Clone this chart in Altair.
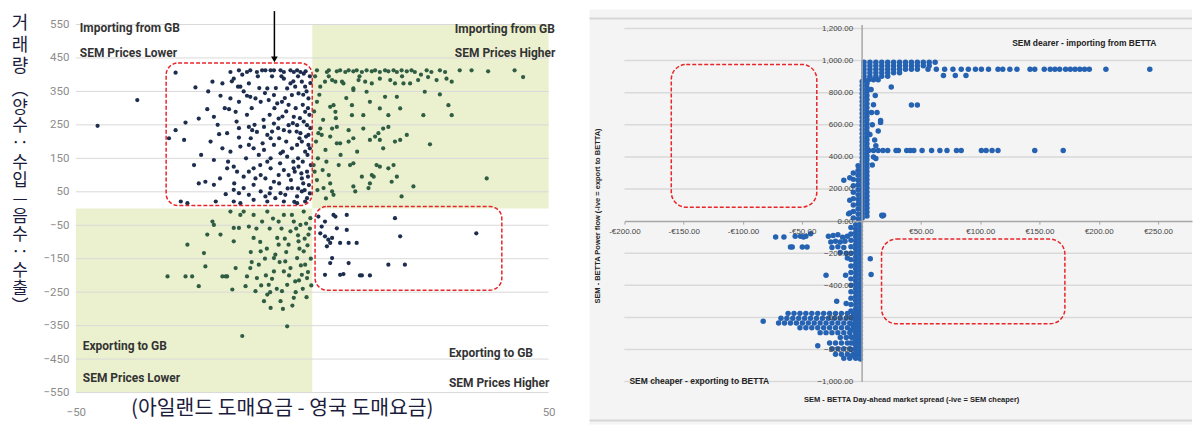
import altair as alt
import pandas as pd

NARROW = "Roboto, Liberation Sans, sans-serif"
KFONT = "Noto Sans CJK KR"
SANS = "Liberation Sans, Arial, sans-serif"

# ---------------- left panel values (price spread vs. flow) ----------------
NAVY_BOX1 = [
    (-28.9, 406), (-24.7, 362), (-21.1, 379), (-19.0, 374), (-17.3, 408), (-16.6, 388), (-15.5, 413),
    (-15.2, 364), (-13.8, 408), (-13.4, 374), (-13.1, 413), (-11.7, 408), (-10.6, 413), (-9.9, 413),
    (-8.8, 413), (-8.1, 413), (-6.7, 413), (-6.0, 408), (-4.6, 413), (-3.9, 408), (-3.2, 413),
    (-2.5, 408), (-1.8, 403),
    (-26.8, 257), (-28.9, 234), (-30.3, 210), (-27.1, 205), (-24.0, 269), (-22.2, 297), (-20.8, 274),
    (-19.4, 337), (-17.6, 297), (-17.3, 329), (-16.2, 289), (-15.5, 319), (-15.7, 364), (-13.8, 337),
    (-13.1, 334), (-12.0, 329), (-10.9, 319), (-9.5, 359), (-9.2, 324), (-8.1, 339), (-7.4, 314),
    (-6.4, 319), (-6.0, 388), (-5.3, 359), (-4.6, 374), (-4.3, 339), (-3.6, 364), (-2.9, 344),
    (-2.2, 379), (-1.5, 364), (-0.8, 329),
    (-19.7, 222), (-18.0, 225), (-15.5, 212), (-13.4, 244), (-12.7, 234), (-11.7, 229), (-10.2, 244),
    (-9.5, 220), (-8.8, 210), (-8.1, 254), (-7.1, 269), (-6.0, 234), (-5.0, 249), (-3.9, 274),
    (-3.2, 249), (-2.5, 225), (-1.5, 289), (-1.1, 249), (-0.8, 220),
    (-25.0, 130), (-20.8, 145), (-17.3, 170), (-15.2, 185), (-13.4, 190), (-12.4, 180), (-11.3, 160),
    (-10.2, 175), (-8.8, 150), (-8.1, 190), (-6.7, 165), (-5.3, 155), (-4.3, 180), (-3.2, 190),
    (-2.2, 200), (-1.5, 170), (-0.8, 190),
    (-24.0, 75), (-22.6, 80), (-20.8, 71), (-18.0, 120), (-16.6, 125), (-15.9, 110), (-14.5, 95),
    (-13.4, 110), (-12.4, 120), (-10.9, 100), (-9.9, 90), (-8.8, 120), (-8.1, 80), (-7.1, 100),
    (-6.0, 115), (-5.0, 100), (-3.9, 120), (-2.9, 125), (-2.2, 90), (-1.1, 110),
    (-18.3, 43), (-16.6, 56), (-15.5, 46), (-14.5, 61), (-13.4, 41), (-12.4, 71), (-10.9, 51),
    (-9.9, 36), (-8.8, 61), (-7.8, 31), (-6.7, 46), (-5.7, 41), (-4.3, 61), (-3.2, 36), (-2.2, 51),
    (-1.1, 31),
    (-27.8, 21), (-26.4, 16), (-20.4, 21), (-16.6, 21), (-15.2, 16), (-12.4, 26), (-9.5, 21),
    (-6.0, 21), (-3.2, 16), (-1.5, 21),
    (-0.5, 395), (-1.2, 350), (-2.0, 310), (-0.6, 280), (-3.5, 300), (-1.8, 260), (-0.4, 240),
    (-2.7, 210), (-4.8, 230), (-1.0, 160), (-3.0, 150), (-0.3, 130), (-2.3, 105), (-4.5, 85),
    (-0.7, 70), (-1.6, 55), (-3.8, 20), (-6.5, 395), (-5.5, 290), (-7.0, 210), (-9.0, 280),
    (-10.5, 195), (-11.0, 130), (-12.8, 300), (-14.0, 150), (-4.0, 140), (-6.8, 135), (-8.5, 395),
    (-11.5, 395), (-14.8, 400), (-7.7, 360), (-10.0, 345), (-5.8, 330), (-3.0, 395), (-1.4, 410),
    (-12.2, 250), (-16.0, 260), (-17.8, 140), (-19.5, 90), (-21.5, 200),
    (-0.4, 375), (-1.9, 340), (-0.9, 300), (-2.6, 270), (-3.3, 230), (-1.3, 215), (-0.5, 180),
    (-2.0, 140), (-3.7, 110), (-0.9, 95), (-1.9, 75), (-3.0, 60), (-0.5, 45), (-4.0, 380),
    (-5.0, 310), (-5.5, 200), (-6.2, 170), (-7.2, 240), (-8.0, 300), (-8.5, 230), (-9.5, 140),
    (-10.3, 265), (-11.2, 360), (-12.0, 90), (-13.0, 210), (-13.8, 280), (-14.5, 350), (-15.5, 240),
    (-16.5, 75), (-17.0, 380), (-18.5, 300), (-19.0, 180), (-20.0, 250), (-22.0, 350), (-23.5, 160),
    (-5.2, 60), (-7.0, 75), (-9.0, 45), (-6.3, 275), (-4.1, 255),
]
NAVY_BOX2 = [
    (1.3, -24), (2.7, -39), (4.5, -19), (4.9, -24), (7.3, -19), (7.3, -64), (1.7, -74), (2.7, -83),
    (3.4, -93), (3.8, -103), (4.2, -88), (3.1, -113), (5.9, -103), (7.7, -103), (9.4, -103),
    (4.2, -148), (3.8, -163), (7.7, -163), (2.7, -198), (5.9, -198), (6.6, -196), (10.1, -200),
    (10.5, -200), (12.2, -200), (16.1, -168), (19.6, -168), (17.5, -29), (18.6, -83), (34.7, -74),
    (2.0, -54), (5.2, -59),
]
NAVY_OUTLIERS = [(-45.4, 247), (-37.0, 324)]
GREEN_TOP_RIGHT = [
    (1.0, 413), (3.1, 408), (3.5, 413), (5.2, 410), (5.9, 413), (7.0, 408), (7.7, 413), (8.7, 410),
    (9.4, 413), (10.5, 408), (11.5, 413), (12.6, 410), (13.3, 413), (14.3, 408), (15.4, 413),
    (16.1, 410), (17.2, 413), (17.9, 408), (18.9, 413), (20.0, 410), (21.0, 413), (21.7, 408),
    (24.2, 413), (25.2, 408), (27.0, 413), (28.1, 408), (31.2, 413), (33.7, 413), (37.2, 410),
    (42.8, 413), (44.6, 393),
    (1.7, 364), (2.7, 379), (4.2, 384), (4.9, 379), (6.3, 379), (6.6, 374), (8.7, 359), (9.8, 384),
    (11.2, 379), (12.6, 374), (14.3, 388), (16.5, 384), (17.5, 374), (19.3, 374), (20.7, 374),
    (22.4, 384), (24.5, 393), (26.3, 384), (28.4, 388), (29.5, 379), (11.5, 349), (8.7, 354),
    (23.8, 349), (27.0, 341), (17.9, 334), (15.4, 334),
    (1.0, 319), (3.8, 304), (4.5, 309), (4.9, 289), (8.4, 309), (8.4, 279), (10.8, 279), (12.2, 319),
    (14.3, 299), (16.1, 279), (18.6, 299), (23.5, 279), (28.8, 309), (29.5, 279), (1.7, 239),
    (4.2, 239), (5.2, 244), (7.7, 234), (10.8, 239), (12.2, 205), (13.3, 215), (14.3, 205),
    (15.0, 239), (16.1, 244), (14.0, 225), (8.7, 210), (3.8, 215), (5.2, 195), (5.9, 195), (7.7, 200),
    (15.0, 180), (17.5, 200), (18.6, 205), (20.0, 220), (24.9, 192), (1.3, 225), (2.0, 220),
    (0.3, 130), (3.5, 100), (5.6, 130), (8.0, 130), (8.7, 135), (10.5, 95), (12.6, 100), (13.0, 95),
    (13.6, 130), (14.3, 125), (16.1, 120), (17.2, 130), (17.9, 95), (16.8, 80), (21.4, 66),
    (18.9, 36), (1.0, 85), (2.4, 61), (3.8, 75), (4.2, 51), (8.7, 66), (9.1, 51), (11.9, 61),
    (12.2, 75), (4.5, 41), (36.9, 90),
    (0.6, 395), (1.5, 340), (0.4, 290), (2.3, 265), (0.8, 200), (2.8, 175), (1.2, 150), (3.0, 140),
    (0.5, 110), (2.2, 115), (1.1, 55), (2.9, 30), (6.0, 160), (9.5, 170), (5.0, 270), (7.2, 330),
    (10.0, 395), (19.0, 395), (23.0, 400), (3.5, 395),
]
GREEN_BOTTOM_LEFT = [
    (-30.6, -203), (-26.8, -203), (-25.4, -203), (-24.0, -232), (-26.4, -108), (-22.9, -133),
    (-22.6, -173), (-22.2, -78), (-21.1, -39), (-19.4, -78), (-19.0, -203), (-18.3, -203),
    (-18.0, -203), (-16.9, -242), (-16.6, -98), (-16.2, -178), (-15.5, -58), (-15.2, -19),
    (-14.5, -9), (-14.1, -232), (-13.8, -203), (-13.1, -178), (-13.4, -54), (-12.4, -88),
    (-12.0, -247), (-11.7, -208), (-11.3, -168), (-10.9, -128), (-10.6, -39), (-10.2, -277),
    (-9.5, -257), (-9.2, -228), (-8.8, -297), (-8.1, -188), (-7.8, -138), (-7.4, -88), (-7.1, -39),
    (-6.7, -277), (-6.4, -247), (-6.0, -188), (-5.7, -158), (-5.3, -352), (-5.0, -108), (-4.6, -68),
    (-4.3, -19), (-3.9, -267), (-3.6, -218), (-3.2, -148), (-2.9, -98), (-2.5, -49), (-2.2, -198),
    (-1.8, -128), (-1.5, -168), (-1.1, -208), (-0.8, -78), (-0.4, -29), (-20.8, -49), (-16.6, -58),
    (-17.3, -9), (-12.4, -19), (-9.5, -9), (-6.0, -19), (-3.9, -39), (-1.8, -9), (-14.8, -381),
    (-8.1, -148), (-7.1, -108), (-5.3, -228), (-4.6, -178),
    (-0.5, -60), (-1.0, -110), (-0.3, -150), (-0.9, -190), (-0.2, -230), (-2.0, -240), (-1.3, -45),
    (-2.7, -120), (-9.0, -60), (-11.0, -100), (-8.5, -210), (-6.5, -60), (-13.0, -130),
    (-10.0, -150), (-5.5, -130), (-3.0, -80), (-7.5, -240), (-4.2, -290), (-2.4, -170), (-9.8, -200),
    (-1.6, -90), (-3.4, -60), (-5.8, -90), (-8.3, -30), (-11.8, -60), (-2.8, -215), (-4.9, -200),
    (-6.9, -160), (-8.9, -250), (-10.8, -230), (-3.5, -250), (-1.2, -265), (-6.2, -300),
    (-9.6, -120), (-12.8, -160),
]
L_Y_TICKS = [550, 450, 350, 250, 150, 50, -50, -150, -250, -350, -450, -550]
L_X_TICKS = [-50, 50]
L_X_DOMAIN = [-50, 50]
L_Y_DOMAIN = [-550, 550]
L_ZONES = {"x": [0, -50], "x2": [50, 0], "y": [0, -550], "y2": [550, 0]}
L_BOXES = {"x": [-30.9, 0.6], "x2": [0.0, 40.1], "y": [435, 6], "y2": [9, -244]}
ARROW = {"x": [-8.0], "y": [590], "y2": [452]}
ARROW_HEAD = {"x": [-8.0], "y": [446]}
L_TEXTS = {
    "tl": ["Importing from GB", "SEM Prices Lower"],
    "tr": ["Importing from GB", "SEM Prices Higher"],
    "bl": ["Exporting to GB", "SEM Prices Lower"],
    "br": ["Exporting to GB", "SEM Prices Higher"],
}
K_YTITLE_A = ["거", "래", "량"]
K_YTITLE_B = ["︵", "양", "수", "‥", "수", "입", "—", "음", "수", "‥", "수", "출", "︶"]
K_XTITLE = "(아일랜드 도매요금 - 영국 도매요금)"

# ---------------- right panel values (SEM - BETTA) ----------------
R_TOP_BLOCK = [
    (2, 990), (7, 990), (12, 990), (17, 990), (22, 990), (27, 990), (32, 990), (37, 990), (42, 990),
    (47, 990), (52, 990), (57, 990), (62, 990),
    (2, 968), (7, 968), (12, 968), (17, 968), (22, 968), (27, 968), (32, 968), (37, 968), (42, 968),
    (47, 968), (52, 968), (57, 968),
    (2, 946), (7, 946), (12, 946), (17, 946), (22, 946), (27, 946), (32, 946), (37, 946), (42, 946),
    (47, 946),
    (2, 924), (7, 924), (12, 924), (17, 924), (22, 924), (27, 924), (32, 924),
    (2, 902), (7, 902), (12, 902), (17, 902), (22, 902),
    (2, 880), (6, 880), (10, 880), (14, 880),
]
R_ROW_950 = [
    (56, 946), (63, 946), (70, 946), (77, 946), (84, 946), (90, 946), (96, 946), (101, 946),
    (107, 946), (115, 946), (119, 946), (125, 946), (131, 946), (142, 946), (146, 946), (154, 946),
    (159, 946), (163, 946), (167, 946), (172, 946), (176, 946), (180, 946), (184, 946), (188, 946),
    (192, 946), (206, 946), (243, 946), (69, 907), (79, 907), (88, 907),
]
R_ROW_440 = [
    (6, 440), (10, 440), (14, 440), (18, 440), (22, 440), (29, 440), (31, 440), (38, 440), (41, 440),
    (44, 440), (51, 440), (59, 440), (66, 440), (72, 440), (80, 440), (84, 440), (101, 440),
    (105, 440), (110, 440), (115, 440), (146, 440), (170, 440),
]
# dense vertical band above zero, read as columns of points
BAND_UP_COL_A = [870, 845, 820, 795, 770, 745, 720, 695, 670, 645, 620, 595, 570, 545, 520, 495,
                 470, 445, 420, 395, 370, 345, 320, 295, 270, 245, 220, 195, 170, 145, 120, 95, 70,
                 45, 20]
BAND_UP_COL_B = [857, 832, 807, 782, 757, 732, 707, 682, 657, 632, 607, 582, 557, 532, 507, 482,
                 457, 432, 407, 382, 357, 332, 307, 282, 257, 232, 207, 182, 157, 132, 107, 82, 57,
                 32]
BAND_UP_COL_C = [345, 315, 285, 255, 225, 195, 165, 135, 105, 75, 45, 15]
BAND_UP_COL_D = [300, 260, 220, 180, 140, 100, 60, 20]
BAND_UP_COL_E = [270, 130, 50]
BAND_UP_X = {"a": 0.5, "b": 4.5, "c": -3, "d": -7, "e": -10}
R_SCATTER_UP = [
    (11.5, 783), (13, 677), (16, 615), (14, 562), (11, 505), (8.4, 677), (10, 725), (9, 600),
    (12, 470), (8, 820), (10, 400), (9, 350), (25, 836), (42, 723), (47, 723), (16, 627), (7, 540),
    (12, 390), (-15, 254), (-11, 45), (17, 37), (18.5, 37),
]
# dense vertical band below zero
BAND_DN_COL_A = [-10, -35, -60, -85, -110, -135, -160, -185, -210, -235, -260, -285, -310, -335,
                 -360, -385, -410, -435, -460, -485, -510, -535, -560, -585, -610, -635, -660, -685,
                 -710, -735, -760, -785, -810, -835, -860]
BAND_DN_COL_B = [-22, -47, -72, -97, -122, -147, -172, -197, -222, -247, -272, -297, -322, -347,
                 -372, -397, -422, -447, -472, -497, -522, -547, -572, -597, -622, -647, -672, -697,
                 -722, -747, -772, -797, -822, -847]
BAND_DN_COL_C = [-40, -80, -120, -160, -200, -240, -280, -320, -360, -400, -440, -480, -520, -560,
                 -600, -640, -680, -720, -760, -800, -840]
BAND_DN_X = {"a": -1, "b": -5, "c": -9}
R_CLUSTER_100 = [
    (-28, -95), (-24, -90), (-20, -85), (-16, -100), (-12, -95), (-26, -130), (-22, -125),
    (-18, -130), (-14, -125), (-25, -165), (-20, -160), (-15, -165), (-18, -195), (-13, -200),
    (-12, -230), (-72.5, -99), (-65.5, -99), (-60, -162), (-58.5, -162), (-50, -162), (-46, -162),
    (-56, -95), (-51.5, -95), (-47, -95), (-43, -79), (-49, -99),
]
R_OUTLIERS = [
    (-30, -337), (-13.5, -337), (7.3, -234), (8, -333), (-21, -499), (-13, -514), (-37, -777),
    (17.6, 31), (-83, -624),
]
R_WEDGE = [
    (-62, -575), (-57, -575), (-52, -575), (-47, -575), (-42, -575), (-37, -575), (-32, -575),
    (-27, -575), (-22, -575), (-17, -575), (-12, -575), (-7, -575), (-2, -575),
    (-68, -605), (-63, -605), (-58, -605), (-53, -605), (-48, -605), (-43, -605), (-38, -605),
    (-33, -605), (-28, -605), (-23, -605), (-18, -605), (-13, -605), (-8, -605), (-3, -605),
    (-70, -635), (-65, -635), (-60, -635), (-55, -635), (-50, -635), (-45, -635), (-40, -635),
    (-35, -635), (-30, -635), (-25, -635), (-20, -635), (-15, -635), (-10, -635), (-5, -635),
    (-52, -665), (-47, -665), (-42, -665), (-37, -665), (-32, -665), (-27, -665), (-22, -665),
    (-17, -665), (-12, -665), (-7, -665), (-2, -665),
    (-35, -695), (-30, -695), (-25, -695), (-20, -695), (-15, -695), (-10, -695), (-5, -695),
    (-18, -725), (-13, -725), (-8, -725), (-3, -725),
    (-27, -760), (-22, -760), (-17, -760), (-12, -760), (-7, -760), (-2, -760),
    (-25, -795), (-20, -795), (-15, -795), (-10, -795), (-5, -795),
    (-22, -830), (-17, -830), (-12, -830), (-7, -830), (-2, -830),
    (-15, -855), (-10, -855), (-5, -855),
]
R_X_TICKS = [-200, -150, -100, -50, 0, 50, 100, 150, 200, 250]
R_Y_TICKS = [-1000, -800, -600, -400, -200, 0, 200, 400, 600, 800, 1000, 1200]
R_GRID = [-1000, -800, -600, -400, -200, 200, 400, 600, 800, 1000, 1200]
R_X_DOMAIN = [-200, 278.6]
R_Y_DOMAIN = [-1000, 1225]
R_BOXES = {"x": [-160.5, 16.8], "x2": [-37.8, 171.4], "y": [976, -112], "y2": [87, -640]}
R_TITLE_X = "SEM - BETTA Day-ahead market spread (-ive = SEM cheaper)"
R_TITLE_Y = "SEM - BETTA Power flow (-ive = export to BETTA)"
R_NOTE_TOP = "SEM dearer - importing from BETTA"
R_NOTE_BOTTOM = "SEM cheaper - exporting to BETTA"


def pts(*groups):
    return pd.DataFrame([p for g in groups for p in g], columns=["x", "y"])


def cols(xs, ys_by_key):
    frames = [pd.DataFrame({"x": xs[k], "y": ys}) for k, ys in ys_by_key.items()]
    return pd.concat(frames, ignore_index=True)


one = pd.DataFrame({"a": [0]})

# ================= left panel =================
LW, LH = 474, 369
lxs = alt.Scale(domain=L_X_DOMAIN, nice=False, zero=False)
lys = alt.Scale(domain=L_Y_DOMAIN, nice=False, zero=False)
lx_axis = alt.Axis(values=L_X_TICKS, title=None, grid=False, domain=False, ticks=False, zindex=1,
                   labelFlush=False, labelPadding=14, labelFont=NARROW, labelFontSize=11.5,
                   labelColor="#8c8c8c")
ly_axis = alt.Axis(values=L_Y_TICKS, title=None, grid=False, domain=False, ticks=False, zindex=1,
                   labelPadding=7, labelFont=NARROW, labelFontSize=11.5, labelColor="#8c8c8c",
                   format="d")


def LX(f):
    return alt.X(f, type="quantitative", scale=lxs, axis=lx_axis)


def LY(f):
    return alt.Y(f, type="quantitative", scale=lys, axis=ly_axis)


def note(lines, x, y, align, lh, size=12, font=NARROW, weight="bold", color="#333333", angle=0):
    return alt.Chart(one).mark_text(
        text=lines, align=align, baseline="middle", lineHeight=lh, font=font,
        fontWeight=weight, fontSize=size, color=color, angle=angle
    ).encode(x=alt.value(x), y=alt.value(y))


l_bg = alt.Chart(one).mark_rect(fill="white").encode(
    x=alt.value(-67), x2=alt.value(480), y=alt.value(-15), y2=alt.value(401))
l_zones = alt.Chart(pd.DataFrame(L_ZONES)).mark_rect(fill="#ebf1cf").encode(
    x=LX("x"), x2="x2", y=LY("y"), y2="y2")
l_grid = alt.Chart(pd.DataFrame({"g": L_Y_TICKS})).mark_rule(color="#d9d9d9", strokeWidth=1).encode(
    y=LY("g"))
l_green = alt.Chart(pts(GREEN_TOP_RIGHT, GREEN_BOTTOM_LEFT)).mark_circle(
    size=18, color="#2f5d43", opacity=1).encode(x=LX("x"), y=LY("y"))
l_navy = alt.Chart(pts(NAVY_BOX1, NAVY_BOX2, NAVY_OUTLIERS)).mark_circle(
    size=18, color="#1d2d4e", opacity=1).encode(x=LX("x"), y=LY("y"))
l_boxes = alt.Chart(pd.DataFrame(L_BOXES)).mark_rect(
    fill="transparent", stroke="#e8262a", strokeWidth=1.5, strokeDash=[4, 2], cornerRadius=12
).encode(x=LX("x"), x2="x2", y=LY("y"), y2="y2")
l_arrow = alt.Chart(pd.DataFrame(ARROW)).mark_rule(color="black", strokeWidth=1.5).encode(
    x=LX("x"), y=LY("y"), y2="y2")
l_head = alt.Chart(pd.DataFrame(ARROW_HEAD)).mark_point(
    shape="triangle-down", filled=True, size=45, color="black", opacity=1).encode(x=LX("x"), y=LY("y"))

left = alt.layer(
    l_bg, l_zones, l_grid, l_green, l_navy, l_boxes, l_arrow, l_head,
    note(L_TEXTS["tl"], 4, 4, "left", 25),
    note(L_TEXTS["tr"], 380, 5, "left", 24),
    note(L_TEXTS["bl"], 7, 322, "left", 32),
    note(L_TEXTS["br"], 374, 329, "left", 30),
    note(K_YTITLE_A, -56, 0, "center", 21.5, size=18, font=KFONT, weight="normal", color="#1c1c3c"),
    note(K_YTITLE_B, -56, 66, "center", 18.1, size=17, font=KFONT, weight="normal", color="#1c1c3c"),
    note(K_XTITLE, 207, 385, "center", 20, size=20.5, font=KFONT, weight="normal", color="#1c1c3c"),
).properties(width=LW, height=LH)

# ================= right panel =================
RW, RH = 569, 358
x0_px = (0 - R_X_DOMAIN[0]) / (R_X_DOMAIN[1] - R_X_DOMAIN[0]) * RW
y0_up = (0 - R_Y_DOMAIN[0]) / (R_Y_DOMAIN[1] - R_Y_DOMAIN[0]) * RH
rxs = alt.Scale(domain=R_X_DOMAIN, nice=False, zero=False)
rys = alt.Scale(domain=R_Y_DOMAIN, nice=False, zero=False)
rx_axis = alt.Axis(
    values=R_X_TICKS, title=None, grid=False, offset=-y0_up, domainColor="#a6a6a6", domainWidth=1.5,
    tickColor="#a6a6a6", tickSize=3, labelPadding=3, labelFontSize=8, labelFont=SANS, zindex=1,
    labelColor="#444444", labelFlush=False, labelOverlap=False,
    labelExpr="datum.value == 0 ? '' : (datum.value < 0 ? '-€' + format(-datum.value, '.2f') : '€' + format(datum.value, '.2f'))")
ry_axis = alt.Axis(
    values=R_Y_TICKS, title=None, grid=False, offset=-x0_px, domainColor="#a6a6a6", domainWidth=1.5,
    ticks=False, labelPadding=9, labelFontSize=8, labelFont=SANS, labelColor="#444444", zindex=1,
    labelOverlap=False, format=",.2f")


def RX(f):
    return alt.X(f, type="quantitative", scale=rxs, axis=rx_axis)


def RY(f):
    return alt.Y(f, type="quantitative", scale=rys, axis=ry_axis)


right_points = pd.concat([
    pts(R_TOP_BLOCK, R_ROW_950, R_ROW_440, R_SCATTER_UP, R_CLUSTER_100, R_OUTLIERS, R_WEDGE),
    cols(BAND_UP_X, {"a": BAND_UP_COL_A, "b": BAND_UP_COL_B, "c": BAND_UP_COL_C,
                     "d": BAND_UP_COL_D, "e": BAND_UP_COL_E}),
    cols(BAND_DN_X, {"a": BAND_DN_COL_A, "b": BAND_DN_COL_B, "c": BAND_DN_COL_C}),
], ignore_index=True)

r_bg = alt.Chart(one).mark_rect(fill="#f4f4f4").encode(
    x=alt.value(-35), x2=alt.value(RW), y=alt.value(-15), y2=alt.value(401))
r_border_top = alt.Chart(one).mark_rule(color="#d6d6d6", strokeWidth=2).encode(
    x=alt.value(-35), x2=alt.value(RW), y=alt.value(-6))
r_border_bottom = alt.Chart(one).mark_rule(color="#d6d6d6", strokeWidth=2).encode(
    x=alt.value(-35), x2=alt.value(RW), y=alt.value(397))
r_grid = alt.Chart(pd.DataFrame({"g": R_GRID})).mark_rule(color="#d9d9d9", strokeWidth=1.5).encode(
    y=RY("g"))
r_points = alt.Chart(right_points).mark_circle(size=30, color="#2562b2", opacity=1).encode(
    x=RX("x"), y=RY("y"))
r_boxes = alt.Chart(pd.DataFrame(R_BOXES)).mark_rect(
    fill="transparent", stroke="#e8262a", strokeWidth=1.5, strokeDash=[4, 2], cornerRadius=15
).encode(x=RX("x"), x2="x2", y=RY("y"), y2="y2")

right = alt.layer(
    r_bg, r_border_top, r_border_bottom, r_grid, r_points, r_boxes,
    note(R_NOTE_TOP, 461, 19, "center", 10, size=8.5, font=SANS, color="#222222"),
    note(R_NOTE_BOTTOM, 75, 357, "center", 10, size=8.5, font=SANS, color="#222222"),
    note(R_TITLE_X, 288, 376, "center", 10, size=7.5, font=SANS, color="#222222"),
    note(R_TITLE_Y, -27, 192, "center", 10, size=7.5, font=SANS, color="#222222", angle=270),
).properties(width=RW, height=RH)

chart = alt.hconcat(left, right, spacing=76, bounds="flush", padding=0).configure_view(
    stroke="transparent")

chart.save("out.html", embed_options={"renderer": "svg", "actions": False})
